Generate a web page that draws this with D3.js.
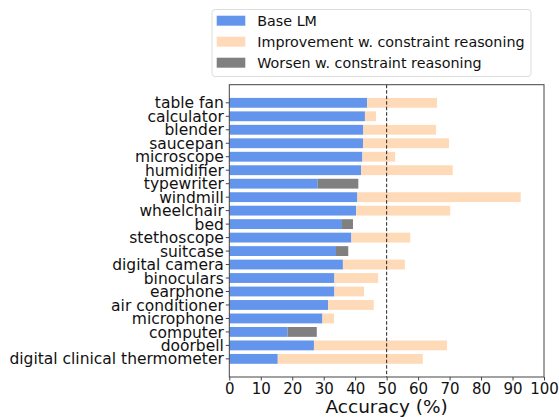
<!DOCTYPE html>
<html>
<head>
<meta charset="utf-8">
<script src="https://cdn.jsdelivr.net/npm/d3@7"></script>
<style>
  body { margin: 0; background: #fff; }
  svg { display: block; font-family: "DejaVu Sans", sans-serif; }
</style>
</head>
<body>
<div id="chart"></div>
<script>

/* Data */
/* ---- */

var categories = ['table fan', 'calculator', 'blender', 'saucepan', 'microscope', 'humidifier',
  'typewriter', 'windmill', 'wheelchair', 'bed', 'stethoscope', 'suitcase', 'digital camera',
  'binoculars', 'earphone', 'air conditioner', 'microphone', 'computer', 'doorbell',
  'digital clinical thermometer'];

// accuracy of the base LM
var baseValues = [43.8, 43.1, 42.6, 42.5, 42.3, 41.9, 41.0, 40.7, 40.3, 39.3, 38.8, 37.8, 36.1,
  33.4, 33.4, 31.4, 29.6, 27.8, 26.9, 15.4];

// accuracy with constraint reasoning
var constraintValues = [66.0, 46.6, 65.7, 69.8, 52.7, 71.0, 28.1, 92.6, 70.2, 35.8, 57.5, 33.9, 55.8,
  47.3, 42.8, 45.9, 33.3, 18.5, 69.2, 61.5];

var xTicks = [0, 10, 20, 30, 40, 50, 60, 70, 80, 90, 100];

var legendLabels = ['Base LM', 'Improvement w. constraint reasoning', 'Worsen w. constraint reasoning'];

var colours = { base: '#6495ed', up: '#ffdab9', down: '#808080' };


/* Setup */
/* ----- */

var width = 559, height = 419;
var margin = { top: 84.7, right: 15, bottom: 42, left: 229.3 };
var innerW = 544 - margin.left,
    innerH = 377 - margin.top;

var svg = d3.select('#chart').append('svg')
    .attr('width', width)
    .attr('height', height);

var g = svg.append('g').attr('transform', 'translate(' + margin.left + ',' + margin.top + ')');

var x = d3.scaleLinear().domain([0, 100]).range([0, innerW]);

var y = d3.scaleBand().domain(categories).range([0, innerH])
    .paddingInner(0.27).paddingOuter(0.98);

var rows = categories.map(function(c, i) {
  return { name: c, base: baseValues[i], con: constraintValues[i] };
});


/* Bars */
/* ---- */

// blue part up to the lower of the two values
g.selectAll('.bar-base').data(rows).enter().append('rect')
    .attr('class', 'bar-base')
    .attr('x', x(0))
    .attr('y', function(d) { return y(d.name); })
    .attr('width', function(d) { return x(Math.min(d.base, d.con)) - x(0); })
    .attr('height', y.bandwidth())
    .attr('fill', colours.base);

// gain or loss between base and constraint reasoning
g.selectAll('.bar-diff').data(rows).enter().append('rect')
    .attr('class', 'bar-diff')
    .attr('x', function(d) { return x(Math.min(d.base, d.con)); })
    .attr('y', function(d) { return y(d.name); })
    .attr('width', function(d) { return Math.abs(x(d.con) - x(d.base)); })
    .attr('height', y.bandwidth())
    .attr('fill', function(d) { return d.con >= d.base ? colours.up : colours.down; });

// 50% line
g.append('line')
    .attr('x1', x(50)).attr('x2', x(50))
    .attr('y1', 0).attr('y2', innerH)
    .attr('stroke', '#222')
    .attr('stroke-width', 1)
    .attr('stroke-dasharray', '3.5,2');


/* Axes */
/* ---- */

var xAxis = g.append('g')
    .attr('transform', 'translate(0,' + innerH + ')')
    .call(d3.axisBottom(x).tickValues(xTicks).tickSize(3.5).tickPadding(3.5));

var yAxis = g.append('g')
    .call(d3.axisLeft(y).tickSize(3.5).tickPadding(2));

[xAxis, yAxis].forEach(function(a) {
  a.select('.domain').remove();
  a.selectAll('.tick line').attr('stroke', '#444');
  a.selectAll('.tick text')
      .attr('fill', '#111')
      .style('font-family', '"DejaVu Sans", sans-serif');
});
yAxis.selectAll('.tick text').attr('dy', '0.36em').style('font-size', '15.5px');
xAxis.selectAll('.tick text').attr('dy', '0.66em').style('font-size', '15px');

// frame
g.append('rect')
    .attr('x', 0).attr('y', 0)
    .attr('width', innerW).attr('height', innerH)
    .attr('fill', 'none')
    .attr('stroke', '#444')
    .attr('stroke-width', 1);

svg.append('text')
    .attr('x', margin.left + innerW / 2)
    .attr('y', 412.7)
    .attr('text-anchor', 'middle')
    .attr('fill', '#111')
    .style('font-size', '18.5px')
    .text('Accuracy (%)');


/* Legend */
/* ------ */

var legend = svg.append('g').attr('transform', 'translate(212,9.5)');

legend.append('rect')
    .attr('width', 319).attr('height', 67)
    .attr('rx', 3)
    .attr('fill', '#fff')
    .attr('stroke', '#ddd')
    .attr('stroke-width', 1);

var legendColours = [colours.base, colours.up, colours.down];

var items = legend.selectAll('.item').data(legendLabels).enter().append('g')
    .attr('class', 'item')
    .attr('transform', function(d, i) { return 'translate(0,' + (11.2 + i * 21) + ')'; });

items.append('rect')
    .attr('x', 4.7).attr('y', -5)
    .attr('width', 28.6).attr('height', 10)
    .attr('fill', function(d, i) { return legendColours[i]; });

items.append('text')
    .attr('x', 45.3)
    .attr('dy', '0.36em')
    .attr('fill', '#111')
    .style('font-size', '14.3px')
    .text(function(d) { return d; });

</script>
</body>
</html>
